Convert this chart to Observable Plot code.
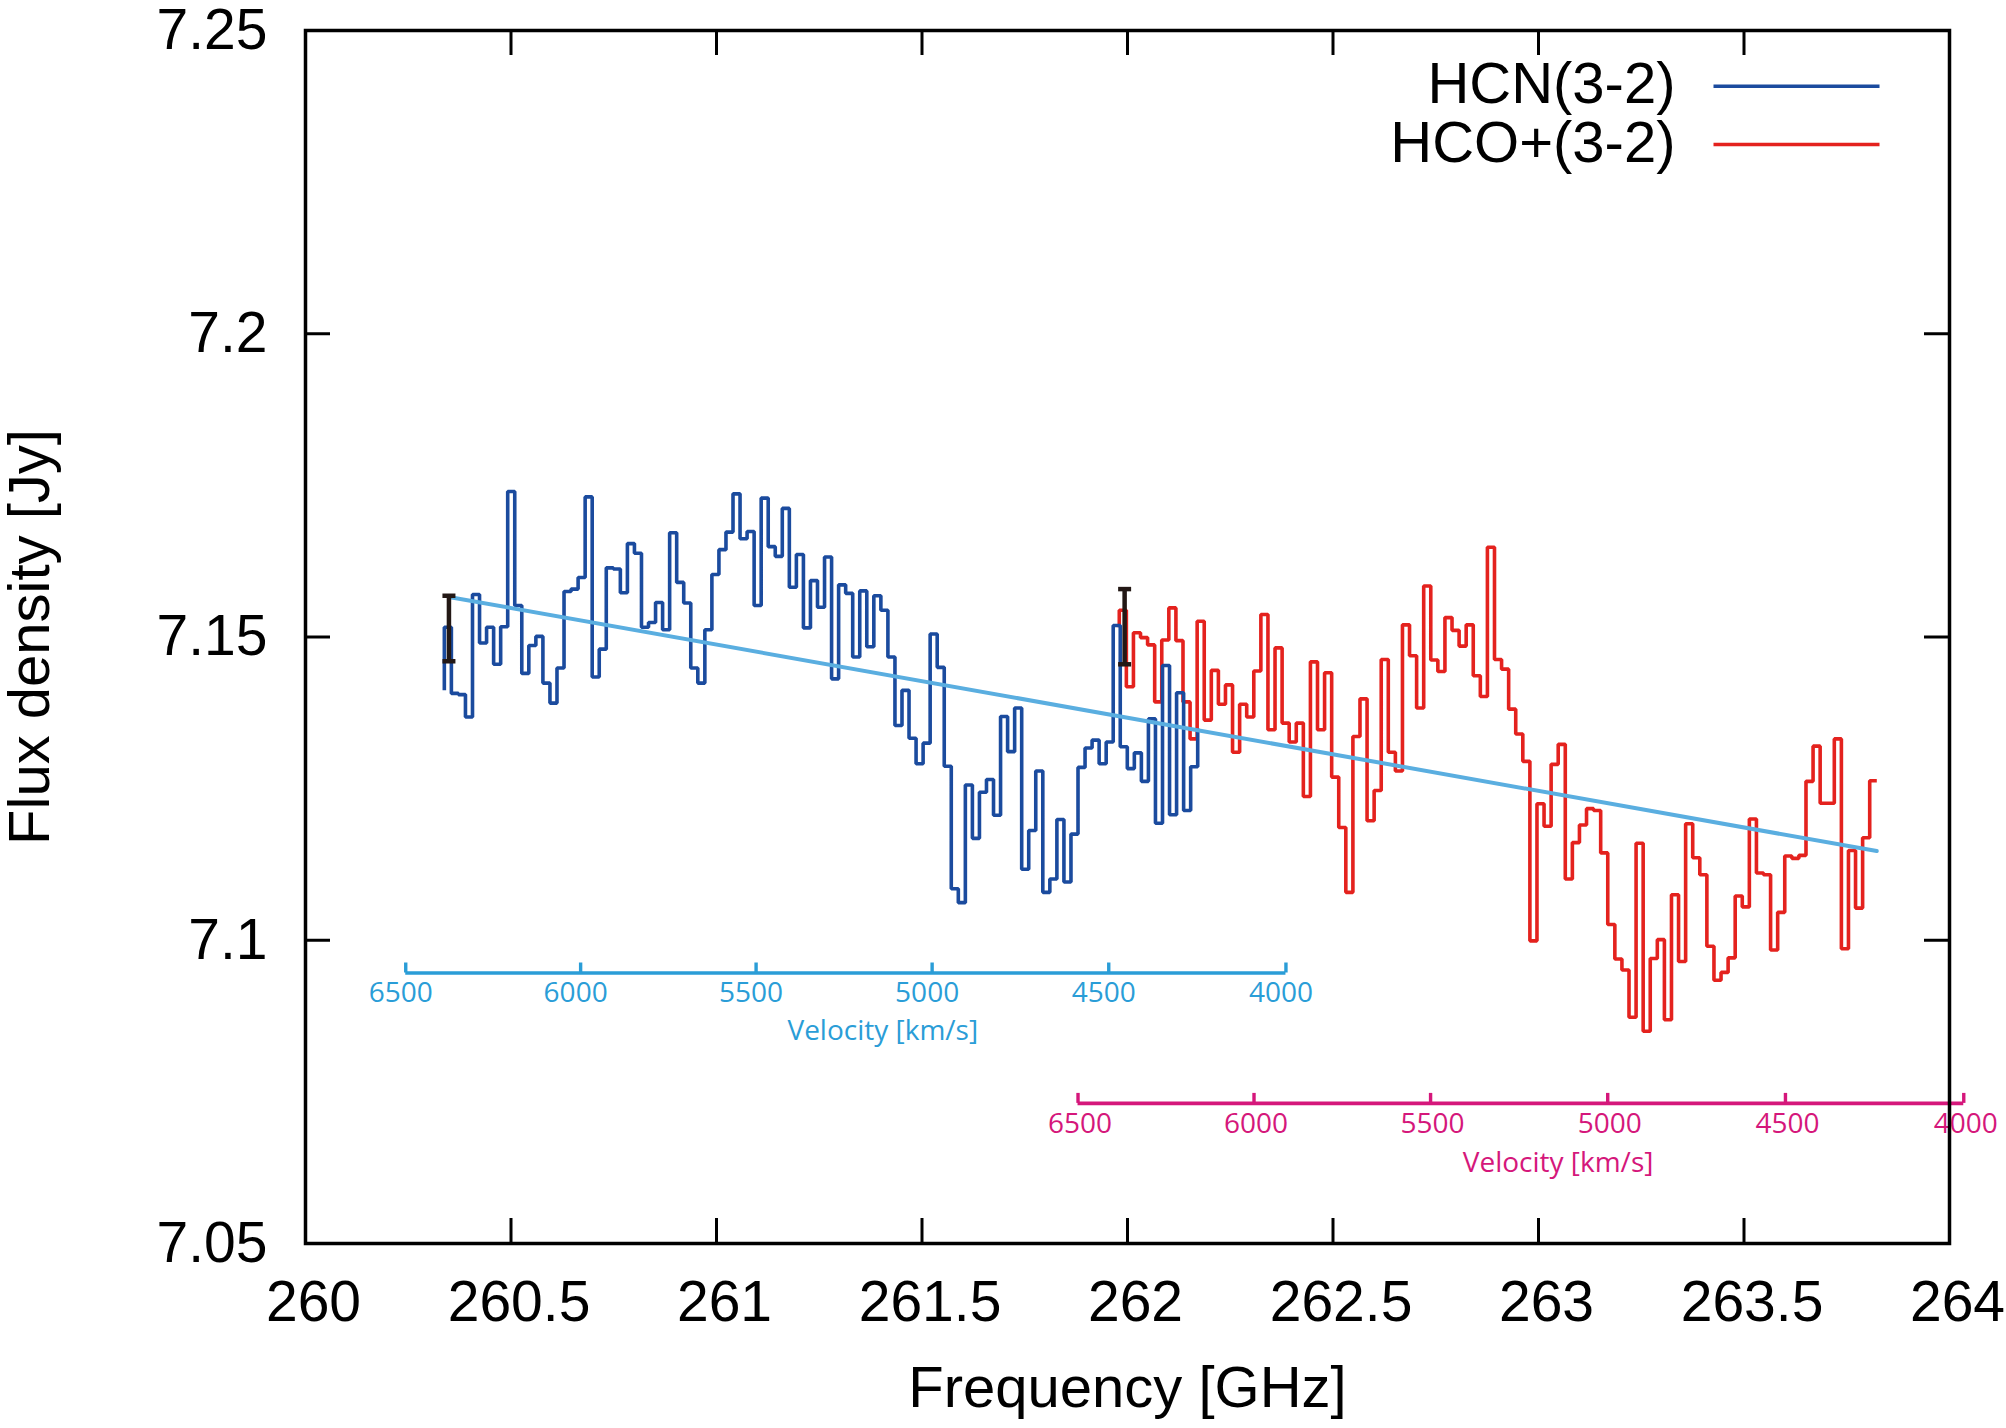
<!DOCTYPE html>
<html><head><meta charset="utf-8">
<script src="https://cdn.jsdelivr.net/npm/d3@7"></script>
<script src="https://cdn.jsdelivr.net/npm/@observablehq/plot@0.6"></script>
<style>html,body{margin:0;padding:0;background:#fff;} #chart svg{display:block;}</style>
</head><body><div id="chart"></div>
<script>
// ---- axis ticks ----
const xTicks = [260, 260.5, 261, 261.5, 262, 262.5, 263, 263.5, 264];
const xTickLabels = ["260","260.5","261","261.5","262","262.5","263","263.5","264"];
const yTicks = [7.05, 7.1, 7.15, 7.2, 7.25];
const yTickLabels = ["7.05","7.1","7.15","7.2","7.25"];
const seriesNames = ["HCN(3-2)", "HCO+(3-2)"];

// ---- HCN(3-2) spectrum (channel edges start + width, flux per channel) ----
const hcnFreqStart = 260.3378;
const hcnChanWidth = 0.017131;
const hcnFirst = 7.1412;
const hcnLast = 7.1349;
const hcnFlux = [
  7.1516, 7.1407, 7.1405, 7.1368, 7.1570, 7.1490, 7.1516, 7.1455, 7.1517, 7.1740,
  7.1552, 7.1440, 7.1486, 7.1501, 7.1424, 7.1391, 7.1449, 7.1575, 7.1579, 7.1598,
  7.1731, 7.1434, 7.1480, 7.1614, 7.1612, 7.1573, 7.1654, 7.1638, 7.1516, 7.1524,
  7.1557, 7.1512, 7.1672, 7.1590, 7.1556, 7.1449, 7.1424, 7.1512, 7.1603, 7.1644,
  7.1673, 7.1736, 7.1662, 7.1674, 7.1552, 7.1729, 7.1649, 7.1633, 7.1712, 7.1582,
  7.1636, 7.1515, 7.1593, 7.1549, 7.1632, 7.1431, 7.1586, 7.1572, 7.1467, 7.1576,
  7.1484, 7.1568, 7.1544, 7.1467, 7.1354, 7.1412, 7.1333, 7.1291, 7.1325, 7.1505,
  7.1450, 7.1287, 7.1085, 7.1062, 7.1256, 7.1168, 7.1244, 7.1265, 7.1206, 7.1369,
  7.1311, 7.1383, 7.1117, 7.1181, 7.1279, 7.1079, 7.1101, 7.1199, 7.1096, 7.1175,
  7.1285, 7.1317, 7.1330, 7.1291, 7.1327, 7.1519, 7.1319, 7.1283, 7.1309, 7.1262,
  7.1365, 7.1193, 7.1453, 7.1207, 7.1408, 7.1214, 7.1286
];

// ---- HCO+(3-2) spectrum ----
const hcoFreqStart = 261.980;
const hcoChanWidth = 0.017225;
const hcoFirst = 7.1516;
const hcoFlux = [
  7.1544, 7.1418, 7.1507, 7.1499, 7.1487, 7.1393, 7.1495, 7.1548, 7.1494, 7.1393,
  7.1332, 7.1526, 7.1363, 7.1445, 7.1389, 7.1421, 7.1310, 7.1389, 7.1368, 7.1444,
  7.1537, 7.1347, 7.1482, 7.1358, 7.1327, 7.1358, 7.1237, 7.1459, 7.1347, 7.1441,
  7.1269, 7.1186, 7.1079, 7.1336, 7.1398, 7.1197, 7.1247, 7.1463, 7.1310, 7.1279,
  7.1520, 7.1469, 7.1383, 7.1584, 7.1462, 7.1443, 7.1532, 7.1511, 7.1485, 7.1520,
  7.1436, 7.1402, 7.1648, 7.1463, 7.1447, 7.1381, 7.1340, 7.1295, 7.0999, 7.1225,
  7.1188, 7.1290, 7.1323, 7.1101, 7.1161, 7.1190, 7.1217, 7.1214, 7.1144, 7.1026,
  7.0969, 7.0951, 7.0873, 7.1160, 7.0850, 7.0970, 7.1001, 7.0869, 7.1075, 7.0965,
  7.1192, 7.1136, 7.1108, 7.0990, 7.0934, 7.0947, 7.0971, 7.1073, 7.1055, 7.1200,
  7.1111, 7.1108, 7.0984, 7.1046, 7.1139, 7.1135, 7.1140, 7.1262, 7.1320, 7.1226,
  7.1226, 7.1332, 7.0986, 7.1148, 7.1053, 7.1169, 7.1263
];

// ---- continuum fit and error bars ----
const contFreq = [260.349, 263.823];
const contFlux = [7.1566, 7.1147];
const errFreq = [260.349, 261.993];
const errLow = [7.1460, 7.1455];
const errHigh = [7.1568, 7.1579];

// ---- velocity axes ----
const velTicks = [6500, 6000, 5500, 5000, 4500, 4000];
const velTitle = "Velocity [km/s]";
const restHCN = 265.8864, restHCO = 267.5576, cKms = 299792.458;
const velTitleAt = 5140;
const hcnVelAxisY = 7.0946, hcoVelAxisY = 7.0731;

// ---- colours ----
const cBlue = "#1b4b9e", cRed = "#e4221e", cTrend = "#5aaee0", cErr = "#231815";
const cVelBlue = "#2a9dd7", cVelMag = "#d5177b", cAxis = "#000";

function stepPoints(start, width, first, flux, last) {
  const pts = [{f: start, v: first}];
  flux.forEach((v, i) => pts.push({f: start + i * width, v}));
  pts.push({f: start + flux.length * width, v: last});
  return pts;
}
const hcnPts = stepPoints(hcnFreqStart, hcnChanWidth, hcnFirst, hcnFlux, hcnLast);
const hcoPts = stepPoints(hcoFreqStart, hcoChanWidth, hcoFirst, hcoFlux, hcoFlux[hcoFlux.length - 1]);
const contPts = contFreq.map((f, i) => ({f, v: contFlux[i]}));

const W = 2006, H = 1428, mL = 305, mR = 57, mT = 30, mB = 185;
const innerW = W - mL - mR, innerH = H - mT - mB, tickLen = 25;
const hLine = {draw(ctx, size) { const r = Math.sqrt(size / Math.PI); ctx.moveTo(-r, 0); ctx.lineTo(r, 0); }};
const velFont = "'Open Sans', 'Noto Sans', sans-serif";

function velAxis(rest, yAxis, color, labelDx, labelDy, titleDy) {
  const fx = v => rest / (1 + v / cKms);
  return [
    Plot.ruleY([yAxis], {y: d => d, x1: () => fx(velTicks[0]), x2: () => fx(velTicks[velTicks.length - 1]), stroke: color, strokeWidth: 3.6}),
    Plot.ruleX(velTicks, {x: fx, y1: () => yAxis, y2: () => yAxis, insetTop: -10, stroke: color, strokeWidth: 3.4}),
    Plot.text(velTicks, {x: fx, y: () => yAxis, text: d => String(d), dx: labelDx, dy: labelDy, lineAnchor: "top", fill: color, fontSize: 28, fontFamily: velFont}),
    Plot.text([velTitle], {x: () => fx(velTitleAt), y: () => yAxis, dy: titleDy, lineAnchor: "top", fill: color, fontSize: 28, fontFamily: velFont})
  ];
}

const lineStyle = {x: "f", y: "v", curve: "step-after", strokeWidth: 3.6, strokeLinejoin: "miter", strokeLinecap: "butt"};

const chart = Plot.plot({
  width: W, height: H,
  marginLeft: mL, marginRight: mR, marginTop: mT, marginBottom: mB,
  x: {domain: [260, 264], label: null, axis: null},
  y: {domain: [7.05, 7.25], label: null, axis: null},
  style: {fontFamily: "'Liberation Sans', Arial, Helvetica, sans-serif", background: "white", color: "black", overflow: "visible"},
  marks: [
    Plot.line(hcoPts, {...lineStyle, stroke: cRed}),
    Plot.line(hcnPts, {...lineStyle, stroke: cBlue}),
    Plot.line(contPts, {x: "f", y: "v", stroke: cTrend, strokeWidth: 4}),
    Plot.ruleX(errFreq, {x: d => d, y1: errLow, y2: errHigh, stroke: cErr, strokeWidth: 4.5}),
    Plot.dot(errFreq.concat(errFreq), {x: d => d, y: errLow.concat(errHigh), symbol: hLine, r: 6.5, stroke: cErr, strokeWidth: 4.5, fill: "none"}),
    ...velAxis(restHCN, hcnVelAxisY, cVelBlue, -5, 9, 47),
    ...velAxis(restHCO, hcoVelAxisY, cVelMag, 2, 10, 49),
    // inward ticks on all four sides
    Plot.tickX(xTicks, {x: d => d, insetTop: innerH - tickLen, stroke: cAxis, strokeWidth: 3}),
    Plot.tickX(xTicks, {x: d => d, insetBottom: innerH - tickLen, stroke: cAxis, strokeWidth: 3}),
    Plot.tickY(yTicks, {y: d => d, insetRight: innerW - tickLen, stroke: cAxis, strokeWidth: 3}),
    Plot.tickY(yTicks, {y: d => d, insetLeft: innerW - tickLen, stroke: cAxis, strokeWidth: 3}),
    Plot.frame({stroke: cAxis, strokeWidth: 3.5}),
    // tick labels
    Plot.text(xTicks, {x: d => d, text: (d, i) => xTickLabels[i], frameAnchor: "bottom", dy: 37, dx: 8, lineAnchor: "top", fontSize: 57}),
    Plot.text(yTicks, {y: d => d, text: (d, i) => yTickLabels[i], frameAnchor: "left", dx: -38, textAnchor: "end", lineAnchor: "middle", fontSize: 57}),
    // axis titles
    Plot.text(["Frequency [GHz]"], {frameAnchor: "bottom", dy: 145, textAnchor: "middle", lineAnchor: "middle", fontSize: 58}),
    Plot.text(["Flux density [Jy]"], {frameAnchor: "left", dx: -275, rotate: -90, textAnchor: "middle", lineAnchor: "middle", fontSize: 58}),
    // legend
    Plot.text([seriesNames[0]], {frameAnchor: "top-right", dx: -274, dy: 54, textAnchor: "end", lineAnchor: "middle", fontSize: 58}),
    Plot.text([seriesNames[1]], {frameAnchor: "top-right", dx: -274, dy: 112.5, textAnchor: "end", lineAnchor: "middle", fontSize: 58}),
    Plot.dot([seriesNames[0]], {frameAnchor: "top-right", dx: -153, dy: 55.7, symbol: hLine, r: 83, stroke: cBlue, strokeWidth: 3.6, fill: "none"}),
    Plot.dot([seriesNames[1]], {frameAnchor: "top-right", dx: -153, dy: 114, symbol: hLine, r: 83, stroke: cRed, strokeWidth: 3.6, fill: "none"})
  ]
});
document.getElementById("chart").appendChild(chart);
</script>
</body></html>
